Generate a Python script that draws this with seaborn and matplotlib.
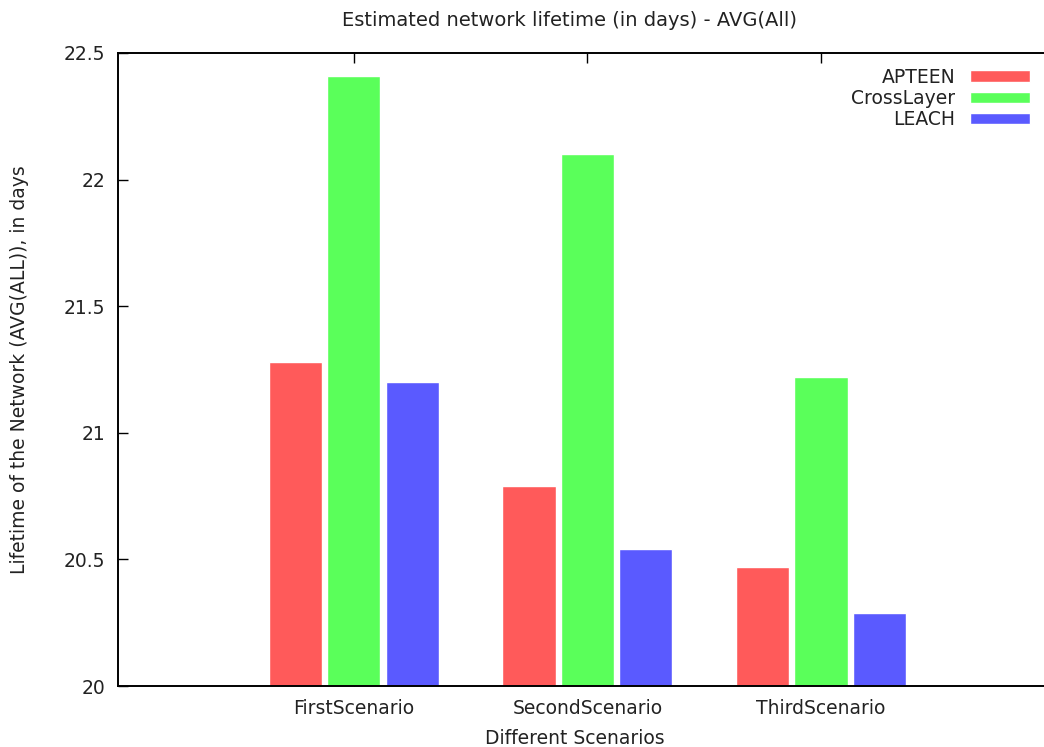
import matplotlib
matplotlib.use("Agg")
import matplotlib.pyplot as plt
import seaborn as sns
import pandas as pd

scenarios = ["FirstScenario", "SecondScenario", "ThirdScenario"]
protocols = ["APTEEN", "CrossLayer", "LEACH"]
apteen = [21.28, 20.79, 20.47]
crosslayer = [22.41, 22.10, 21.22]
leach = [21.20, 20.54, 20.29]
colors = ["#ff5a5a", "#5aff5a", "#5a5aff"]
yticks = [20, 20.5, 21, 21.5, 22, 22.5]
ytick_labels = ["20", "20.5", "21", "21.5", "22", "22.5"]

rows = []
for proto, vals in zip(protocols, [apteen, crosslayer, leach]):
    for sc, v in zip(scenarios, vals):
        rows.append({"Scenario": sc, "Protocol": proto, "Lifetime": v})
df = pd.DataFrame(rows)

sns.set_theme(style="white")
plt.rcParams["font.family"] = ["DejaVu Sans"]

FS = 13.5
TXT = "#222222"

fig = plt.figure(figsize=(10.44, 7.47), dpi=100)
ax = fig.add_axes([118 / 1044, 1 - 686 / 747, 1 - 118 / 1044, (686 - 53) / 747])

sns.barplot(data=df, x="Scenario", y="Lifetime", hue="Protocol",
            order=scenarios, hue_order=protocols, palette=colors,
            width=0.75, gap=0.09, saturation=1, ax=ax, legend=True)

ax.set_axisbelow(True)
ax.set_xlim(-1.01, 2.955)
ax.set_ylim(20, 22.5)
ax.set_yticks(yticks)
ax.set_yticklabels(ytick_labels)
ax.tick_params(axis="both", direction="in", length=7, width=1, color="black",
               labelsize=FS, labelcolor=TXT)
ax.tick_params(axis="x", top=True, bottom=True, pad=9)
ax.tick_params(axis="y", left=True, right=False, pad=9)

for side in ["left", "top", "bottom"]:
    ax.spines[side].set_visible(True)
    ax.spines[side].set_color("black")
    ax.spines[side].set_linewidth(1.4)
ax.spines["right"].set_visible(False)

ax.set_xlabel("Different Scenarios", fontsize=FS, color=TXT)
ax.xaxis.label.set_va("center")
ax.xaxis.set_label_coords(0.493, (686 - 739) / 633)
ax.set_ylabel("Lifetime of the Network (AVG(ALL)), in days", fontsize=FS, color=TXT)
ax.yaxis.label.set_va("center")
ax.yaxis.set_label_coords((20 - 118) / 926, 0.5)
fig.text(569 / 1044, 1 - 20 / 747, "Estimated network lifetime (in days) - AVG(All)",
         ha="center", va="center", fontsize=14, color=TXT)

handles, labels = ax.get_legend_handles_labels()
leg = ax.legend(handles, labels, loc="upper right", bbox_to_anchor=(0.985, 0.977),
                frameon=False, markerfirst=False, fontsize=FS,
                handlelength=3.2, handleheight=0.55, labelspacing=0.12,
                handletextpad=0.8, borderaxespad=0, borderpad=0)
for t in leg.get_texts():
    t.set_color(TXT)

fig.savefig("out.png", dpi=100)
